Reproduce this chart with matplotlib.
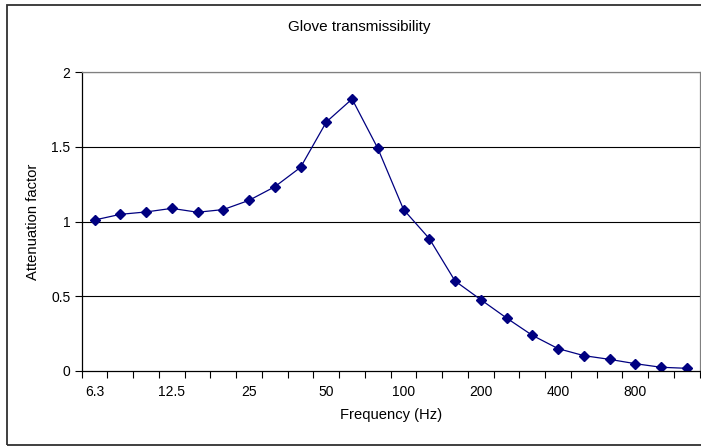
import matplotlib.pyplot as plt
from matplotlib.patches import Rectangle

# third-octave band centre frequencies (Hz) and measured attenuation
frequences = ["6.3", "8", "10", "12.5", "16", "20", "25", "31.5", "40", "50", "63", "80",
              "100", "125", "160", "200", "250", "315", "400", "500", "630", "800", "1000", "1250"]
attenuation = [1.01, 1.048, 1.064, 1.088, 1.062, 1.08, 1.142, 1.233, 1.363, 1.667, 1.821, 1.49,
               1.08, 0.885, 0.601, 0.476, 0.353, 0.237, 0.148, 0.101, 0.076, 0.047, 0.023, 0.016]
yticks = [0, 0.5, 1, 1.5, 2]
ytick_labels = ["0", "0.5", "1", "1.5", "2"]

plt.rcParams['font.family'] = ['Liberation Sans', 'DejaVu Sans']

fig = plt.figure(figsize=(7.01, 4.46), dpi=100)
ax = fig.add_axes([81.7/701, 75.3/446, 618/701, 298.4/446])

x = list(range(len(frequences)))
ax.plot(x, attenuation, "-", color="#000080", lw=0.9,
        marker="D", markersize=5.4, markerfacecolor="#000080", markeredgecolor="#000080")

ax.set_xlim(-0.5, len(frequences) - 0.5)
ax.set_ylim(0, 2)

# gridlines
for y in yticks[1:]:
    ax.axhline(y, color="black", lw=0.8, zorder=0)

ax.set_yticks(yticks)
ax.set_yticklabels(ytick_labels, fontsize=10)
ax.tick_params(axis="y", direction="out", length=5, width=0.8, pad=3)

# ticks between categories, labels on every third band
ax.set_xticks([i - 0.5 for i in range(len(frequences) + 1)])
ax.set_xticklabels([])
ax.set_xticks(x[::3], minor=True)
ax.set_xticklabels(frequences[::3], minor=True, fontsize=10)
ax.tick_params(axis="x", which="major", direction="out", length=5, width=0.8)
ax.tick_params(axis="x", which="minor", length=0, pad=10)

ax.spines["left"].set_color("black")
ax.spines["bottom"].set_color("black")
ax.spines["top"].set_color("#808080")
ax.spines["right"].set_color("#808080")
for s in ax.spines.values():
    s.set_linewidth(0.9)

ax.set_xlabel("Frequency (Hz)", fontsize=10.6, labelpad=7)
ax.set_ylabel("Attenuation factor", fontsize=10.6, labelpad=8)
fig.text(359/701, 1 - 27/446, "Glove transmissibility", ha="center", va="center", fontsize=11)

# chart border
fig.patches.append(Rectangle((7.3/701, 1/446), 1.0, 440.5/446, transform=fig.transFigure,
                             fill=False, edgecolor="#303030", lw=1.3))

fig.savefig("out.png", dpi=100)
